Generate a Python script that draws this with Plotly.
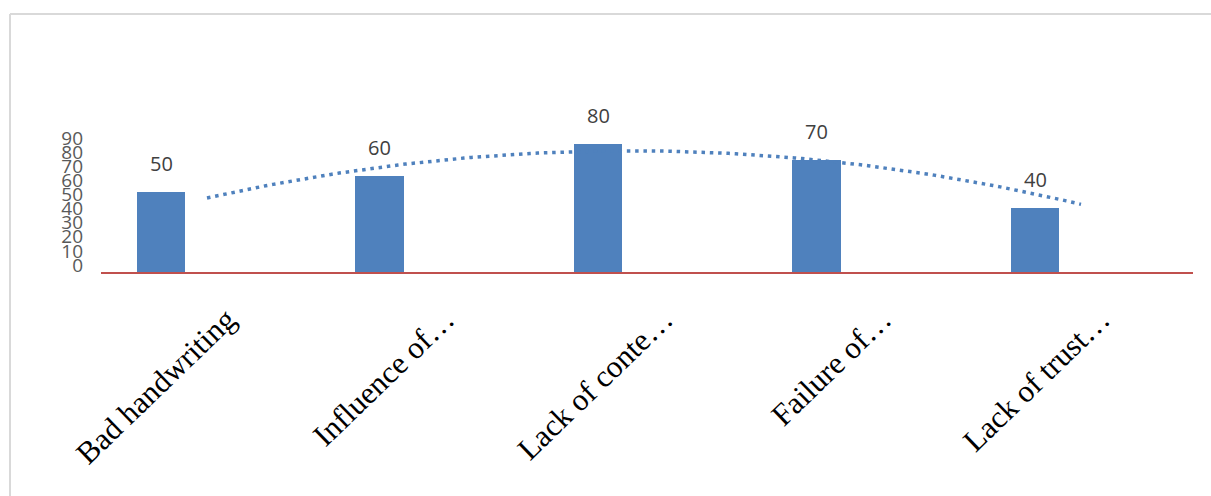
import numpy as np
import plotly.graph_objects as go

categories = ["Bad handwriting", "Influence of…", "Lack of conte…", "Failure of…", "Lack of trust…"]
values = [50, 60, 80, 70, 40]
y_ticks = [0, 10, 20, 30, 40, 50, 60, 70, 80, 90]

# layout geometry (pixels)
W, H = 1211, 496
L, R, T, B = 101, 1193, 128, 272
cat_px = 218.5
first_center = 161
xr = [(L - first_center) / cat_px, (R - first_center) / cat_px]
trend_shift = 46 / cat_px
label_shift = 66 / cat_px

idx = np.arange(len(values))
coef = np.polyfit(idx, values, 2)
tx = np.linspace(0, len(values) - 1, 120)
ty = np.polyval(coef, tx)

fig = go.Figure()
fig.add_trace(go.Bar(x=idx, y=values, width=0.22, marker=dict(color="#4F81BD", line=dict(width=0)),
                     xaxis="x", yaxis="y", hoverinfo="skip", showlegend=False))
fig.add_trace(go.Scatter(x=tx, y=ty, mode="lines", xaxis="x2", yaxis="y",
                         line=dict(color="#4F81BD", width=3.5, dash="3.5px,4.8px"),
                         hoverinfo="skip", showlegend=False))
# carriers for the label axes
fig.add_trace(go.Scatter(x=idx, y=[None] * len(idx), mode="markers", xaxis="x3", yaxis="y",
                         hoverinfo="skip", showlegend=False))
fig.add_trace(go.Scatter(x=idx, y=[None] * len(idx), mode="markers", xaxis="x", yaxis="y2",
                         hoverinfo="skip", showlegend=False))

for i, v in zip(idx, values):
    fig.add_annotation(x=i, y=v, xref="x", yref="y", text=str(v), showarrow=False,
                       yshift=29, font=dict(family="Open Sans", size=20, color="#404040"))

# y-tick label axis: compressed labels (0 at 265px, 90 at 138px)
k = (265 - 138) / 90.0
y2_range = [-(B - 265) / k, (265 - T) / k]

fig.update_layout(
    width=W, height=H,
    margin=dict(l=L, r=W - R, t=T, b=H - B, pad=0),
    paper_bgcolor="white", plot_bgcolor="white",
    bargap=0,
    xaxis=dict(range=xr, showticklabels=False, showgrid=False, zeroline=False,
               showline=True, linecolor="#C0504D", linewidth=1.6, ticks=""),
    xaxis2=dict(range=[xr[0] - trend_shift, xr[1] - trend_shift], overlaying="x", anchor="y",
                visible=False),
    xaxis3=dict(range=[xr[0] - label_shift, xr[1] - label_shift], overlaying="x", anchor="y",
                tickmode="array", tickvals=list(idx), ticktext=categories, tickangle=-44,
                showgrid=False, zeroline=False, showline=False, ticks="",
                ticklabelstandoff=22,
                tickfont=dict(family="Liberation Serif", size=31, color="#000000")),
    yaxis=dict(range=[0, 90], showticklabels=False, showgrid=False, zeroline=False, showline=False),
    yaxis2=dict(range=y2_range, overlaying="y", anchor="x", side="left",
                tickmode="array", tickvals=y_ticks, ticks="",
                showgrid=False, zeroline=False, showline=False, ticklabelstandoff=17,
                tickfont=dict(family="Open Sans", size=19, color="#595959")),
)

# outer frame (top and left edges)
px2x = lambda p: (p - L) / (R - L)
py2y = lambda p: (B - p) / (B - T)
fig.add_shape(type="line", xref="paper", yref="paper", x0=px2x(10), x1=px2x(W + 5), y0=py2y(14), y1=py2y(14),
              line=dict(color="#D9D9D9", width=2))
fig.add_shape(type="line", xref="paper", yref="paper", x0=px2x(10), x1=px2x(10), y0=py2y(14), y1=py2y(H + 5),
              line=dict(color="#D9D9D9", width=2))

fig.write_html("out.html")
